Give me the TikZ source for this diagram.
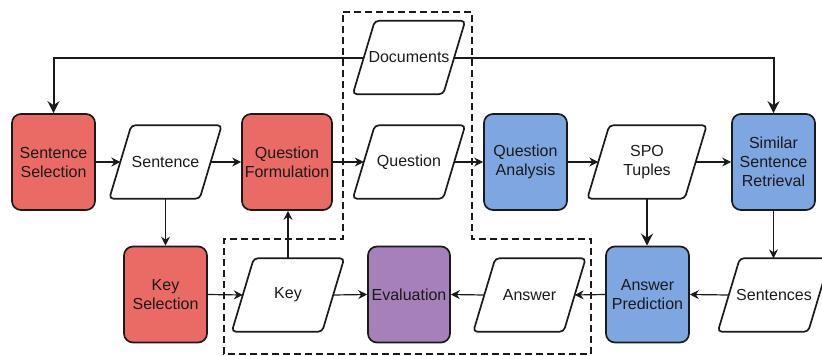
\documentclass[tikz,border=0pt]{standalone}
\usepackage{fontspec}
\setmainfont{Liberation Sans}
\usetikzlibrary{arrows.meta}
\definecolor{redf}{HTML}{EA6B66}
\definecolor{bluef}{HTML}{7EA6E0}
\definecolor{purf}{HTML}{A680B8}
\definecolor{ink}{HTML}{1A1A1A}
\begin{document}
\begin{tikzpicture}[x=1pt,y=-1pt,
  lbl/.style={font=\fontsize{16}{19}\selectfont, text=ink, align=center, inner sep=0pt},
  proc/.style={lbl, draw=ink, line width=1.7pt, rounded corners=9pt, minimum width=83pt, minimum height=96pt},
  io/.style={lbl, minimum width=90pt, minimum height=73pt},
  iodraw/.style={draw=ink, line width=1.7pt, rounded corners=4pt},
  thinarrow/.style={draw=ink, line width=1.2pt, -{Stealth[length=9pt,width=9pt,inset=3pt]}},
  thickarrow/.style={draw=ink, line width=2pt, -{Stealth[length=12pt,width=12pt,inset=4pt]}},
  group/.style={draw=ink, line width=1.7pt, dash pattern=on 7pt off 4pt}
]
\useasboundingbox (0,0) rectangle (822,356);

% dashed group
\draw[group] (343,12) -- (472,12) -- (472,239) -- (591,239) -- (591,354) -- (224,354) -- (224,239) -- (343,239) -- cycle;

% process boxes
\node[proc, fill=redf] (ss) at (53.5,162) {Sentence\\Selection};
\node[proc, fill=redf, minimum width=90pt] (qf) at (287,162) {Question\\Formulation};
\node[proc, fill=bluef] (qa) at (525.5,162) {Question\\Analysis};
\node[proc, fill=bluef] (ssr) at (773.5,162) {Similar\\Sentence\\Retrieval};
\node[proc, fill=redf] (ks) at (165.5,294.5) {Key\\Selection};
\node[proc, fill=purf, minimum width=82pt] (ev) at (409,294.5) {Evaluation};
\node[proc, fill=bluef] (ap) at (647.5,294.5) {Answer\\Prediction};

% data (parallelogram) nodes
\node[io] (docs) at (409,57.5) {Documents};
\node[io] (sent) at (165.5,162) {Sentence};
\node[io] (ques) at (409,162) {Question};
\node[io, minimum width=97pt] (spo) at (647,162) {SPO\\Tuples};
\node[io] (key) at (288,295) {Key};
\node[io] (ans) at (529.5,295) {Answer};
\node[io] (sents) at (774,295) {Sentences};

\foreach \n in {docs,sent,ques,spo,key,ans,sents}{
  \draw[iodraw] (\n.south) -- ([xshift=-11pt]\n.south west) -- ([xshift=11pt]\n.north west)
     -- ([xshift=11pt]\n.north east) -- ([xshift=-11pt]\n.south east) -- cycle;
}

% connectors
\draw[thickarrow] (docs.west) -| (ss.north);
\draw[thickarrow] (docs.east) -| (ssr.north);
\draw[thinarrow] (ss.east) -- (sent.west);
\draw[thinarrow] (sent.east) -- (qf.west);
\draw[thinarrow] (qf.east) -- (ques.west);
\draw[thinarrow] (ques.east) -- (qa.west);
\draw[thinarrow] (qa.east) -- (spo.west);
\draw[thinarrow] (spo.east) -- (ssr.west);
\draw[thinarrow] (sent.south) -- (ks.north);
\draw[thinarrow] (ks.east) -- (key.west);
\draw[thinarrow] (key.north) -- (key.north |- qf.south);
\draw[thinarrow] (key.east) -- (ev.west);
\draw[thinarrow] (ans.west) -- (ev.east);
\draw[thinarrow] (ap.west) -- (ans.east);
\draw[thinarrow] (sents.west) -- (ap.east);
\draw[thinarrow] (ssr.south) -- (ssr.south |- sents.north);
\draw[thickarrow] (spo.south) -- (spo.south |- ap.north);
\end{tikzpicture}
\end{document}
